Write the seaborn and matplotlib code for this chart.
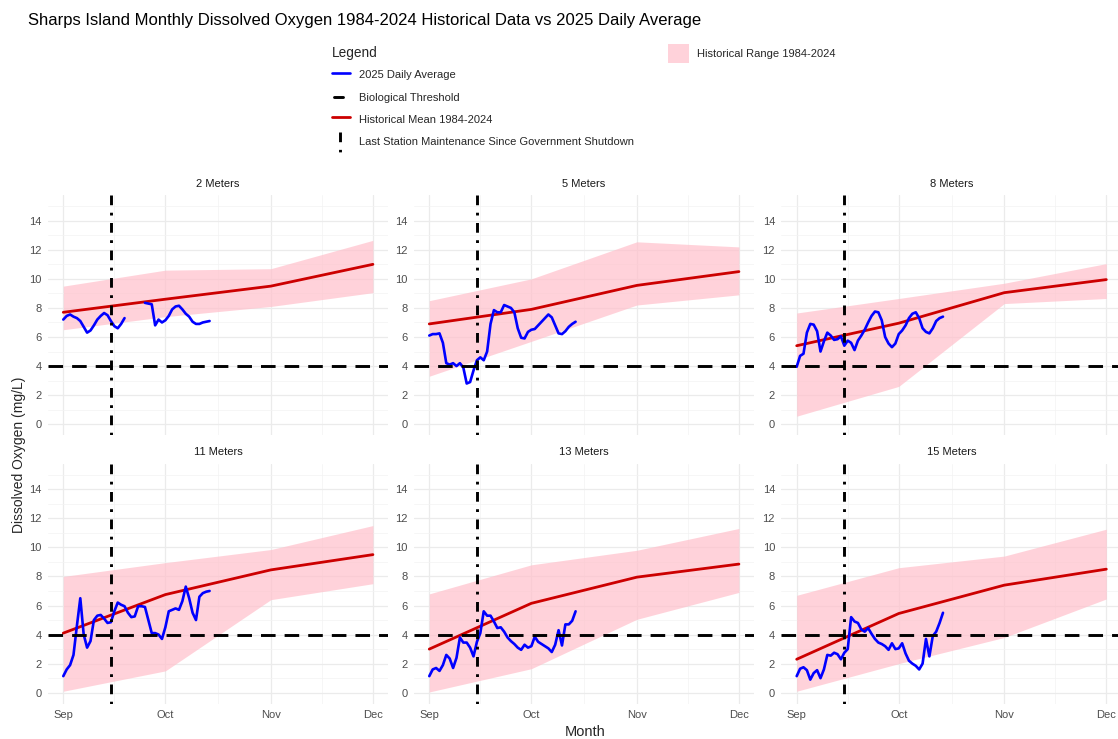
import numpy as np
import pandas as pd
import matplotlib
matplotlib.use("Agg")
import matplotlib.pyplot as plt
import matplotlib.dates as mdates
from matplotlib.lines import Line2D
from matplotlib.patches import Patch
from matplotlib.legend_handler import HandlerBase
import seaborn as sns

# ---------------- data ----------------
depths = ["2 Meters", "5 Meters", "8 Meters", "11 Meters", "13 Meters", "15 Meters"]
month_starts = ["2025-09-01", "2025-10-01", "2025-11-01", "2025-12-01"]
month_labels = ["Sep", "Oct", "Nov", "Dec"]

# historical monthly statistics 1984-2024 (mg/L), one value per month start
mean_2m = [7.7, 8.6, 9.5, 11.0]
min_2m = [6.5, 7.4, 8.1, 9.05]
max_2m = [9.5, 10.6, 10.7, 12.65]

mean_5m = [6.9, 7.9, 9.55, 10.5]
min_5m = [3.3, 5.7, 8.2, 8.9]
max_5m = [8.5, 10.0, 12.55, 12.2]

mean_8m = [5.4, 6.95, 9.05, 9.95]
min_8m = [0.55, 2.6, 8.3, 8.65]
max_8m = [7.65, 8.65, 9.7, 11.05]

mean_11m = [4.1, 6.75, 8.45, 9.5]
min_11m = [0.1, 1.5, 6.4, 7.5]
max_11m = [8.0, 8.95, 9.85, 11.5]

mean_13m = [3.0, 6.15, 7.95, 8.85]
min_13m = [0.05, 1.65, 5.05, 6.9]
max_13m = [6.8, 8.8, 9.8, 11.3]

mean_15m = [2.3, 5.45, 7.4, 8.5]
min_15m = [0.1, 2.0, 3.8, 6.45]
max_15m = [6.7, 8.6, 9.4, 11.25]

# 2025 daily averages, one value per day starting Sep 1 (None = no data)
daily_start = "2025-09-01"
do_2m = [7.2, 7.45, 7.55, 7.4, 7.3, 7.1, 6.7, 6.3, 6.45, 6.8,
         7.2, 7.45, 7.65, 7.5, 7.1, 6.75, 6.6, 6.9, 7.3, None,
         None, None, None, None, 8.35, 8.3, 8.25, 6.8, 7.2, 7.0,
         7.15, 7.45, 7.9, 8.1, 8.15, 7.9, 7.6, 7.4, 7.05, 6.9,
         6.9, 7.0, 7.05, 7.1]
do_5m = [6.1, 6.2, 6.2, 6.25, 5.6, 4.2, 4.1, 4.2, 4.0, 4.2,
         3.9, 2.8, 2.9, 3.7, 4.4, 4.6, 4.4, 5.0, 6.9, 7.85,
         7.7, 7.7, 8.2, 8.1, 8.0, 7.7, 6.6, 5.95, 5.9, 6.35,
         6.5, 6.55, 6.8, 7.05, 7.3, 7.55, 7.35, 6.8, 6.25, 6.2,
         6.4, 6.7, 6.9, 7.05]
do_8m = [3.95, 4.7, 4.85, 6.3, 6.9, 6.85, 6.4, 5.0, 5.7, 6.3,
         6.1, 5.8, 5.85, 6.05, 5.4, 5.75, 5.6, 5.1, 5.75, 6.1,
         6.5, 7.0, 7.45, 7.75, 7.7, 7.15, 6.0, 5.55, 5.3, 5.55,
         6.2, 6.45, 6.8, 7.3, 7.6, 7.7, 7.3, 6.6, 6.35, 6.25,
         6.6, 7.1, 7.3, 7.4]
do_11m = [1.14, 1.6, 1.9, 2.6, 4.6, 6.5, 4.0, 3.1, 3.55, 5.0,
          5.3, 5.35, 5.1, 4.8, 4.85, 5.6, 6.2, 6.05, 5.95, 5.5,
          5.2, 5.25, 5.95, 5.95, 5.9, 5.0, 4.1, 4.1, 4.0, 3.7,
          4.5, 5.6, 5.7, 5.8, 5.7, 6.3, 7.3, 6.5, 5.5, 5.0,
          6.6, 6.85, 6.95, 7.0]
do_13m = [1.14, 1.6, 1.7, 1.5, 1.9, 2.6, 2.35, 1.7, 2.4, 3.8,
          3.45, 3.45, 3.1, 2.5, 3.5, 4.1, 5.6, 5.3, 5.3, 4.9,
          4.45, 4.5, 4.2, 3.8, 3.55, 3.35, 3.1, 2.95, 3.3, 3.1,
          3.2, 3.85, 3.5, 3.35, 3.2, 3.05, 2.8, 3.3, 4.3, 3.25,
          4.7, 4.7, 4.95, 5.6]
do_15m = [1.14, 1.65, 1.75, 1.55, 0.9, 1.35, 1.55, 1.0, 1.6, 2.6,
          2.55, 2.75, 2.65, 2.3, 2.75, 3.0, 5.2, 4.9, 4.8, 4.35,
          4.2, 4.45, 4.05, 3.7, 3.45, 3.35, 3.2, 2.95, 3.4, 3.0,
          3.05, 3.4, 2.7, 2.2, 2.0, 1.85, 1.6, 2.0, 3.7, 2.5,
          3.9, 4.2, 4.8, 5.5]

threshold = 4.0
maintenance_date = "2025-09-15"

hist_mean = [mean_2m, mean_5m, mean_8m, mean_11m, mean_13m, mean_15m]
hist_min = [min_2m, min_5m, min_8m, min_11m, min_13m, min_15m]
hist_max = [max_2m, max_5m, max_8m, max_11m, max_13m, max_15m]
daily_do = [do_2m, do_5m, do_8m, do_11m, do_13m, do_15m]

# ---------------- tidy tables ----------------
month_dates = pd.to_datetime(month_starts)
hist_frames = []
for name, m, lo, hi in zip(depths, hist_mean, hist_min, hist_max):
    hist_frames.append(pd.DataFrame({"depth": name, "date": month_dates,
                                     "mean": m, "lo": lo, "hi": hi}))
hist = pd.concat(hist_frames, ignore_index=True)

daily_frames = []
for name, vals in zip(depths, daily_do):
    s = pd.Series([np.nan if v is None else v for v in vals], dtype=float)
    dates = pd.date_range(daily_start, periods=len(s), freq="D")
    seg = s.isna().cumsum()
    d = pd.DataFrame({"depth": name, "date": dates, "do": s, "segment": seg})
    daily_frames.append(d.dropna())
daily = pd.concat(daily_frames, ignore_index=True)

# ---------------- style ----------------
sns.set_theme(style="white")
plt.rcParams["font.family"] = ["Liberation Sans", "DejaVu Sans"]
plt.rcParams["lines.scale_dashes"] = False

W, H = 1118, 739
fig = plt.figure(figsize=(W / 100, H / 100), dpi=100)
fig.patch.set_facecolor("white")

col_left = [47.8, 413.8, 781.2]
row_top = [195.3, 463.8]
ax_w, ax_h = 340.6, 239.8

num_months = mdates.date2num(month_dates)
minor_x = (num_months[:-1] + num_months[1:]) / 2
span = num_months[-1] - num_months[0]
xlim = (num_months[0] - 0.05 * span, num_months[-1] + 0.05 * span)
maint = pd.Timestamp(maintenance_date)

for i, name in enumerate(depths):
    r, c = divmod(i, 3)
    ax = fig.add_axes([col_left[c] / W, 1 - (row_top[r] + ax_h) / H, ax_w / W, ax_h / H])
    ax.set_facecolor("white")
    h = hist[hist["depth"] == name]
    d = daily[daily["depth"] == name]

    ax.fill_between(h["date"], h["lo"], h["hi"], color="pink", alpha=0.7,
                    linewidth=0, zorder=1)
    sns.lineplot(data=h, x="date", y="mean", color="#CC0000", linewidth=2.0,
                 ax=ax, legend=False, zorder=2)
    sns.lineplot(data=d, x="date", y="do", units="segment", estimator=None,
                 color="blue", linewidth=1.9, ax=ax, legend=False, zorder=3)
    ax.axhline(threshold, color="black", linewidth=2.1,
               linestyle=(0, (10.5, 6.5)), zorder=4)
    ax.axvline(maint, color="black", linewidth=2.1,
               linestyle=(0, (2.0, 5.4, 7.0, 5.4)), zorder=5)

    ax.set_xlim(*xlim)
    ax.set_ylim(-0.75, 15.75)
    ax.set_yticks(range(0, 15, 2))
    ax.set_yticks(range(1, 16, 2), minor=True)
    ax.set_xticks(num_months)
    ax.set_xticks(minor_x, minor=True)
    if r == 1:
        ax.set_xticklabels(month_labels)
    else:
        ax.set_xticklabels([])
    ax.grid(which="major", color="#EBEBEB", linewidth=0.9)
    ax.grid(which="minor", color="#F3F3F3", linewidth=0.5)
    ax.set_axisbelow(True)
    for s in ax.spines.values():
        s.set_visible(False)
    ax.tick_params(which="both", length=0, labelsize=8, labelcolor="#4D4D4D")
    ax.tick_params(axis="y", pad=4.4)
    ax.tick_params(axis="x", pad=4.6)
    ax.set_xlabel("")
    ax.set_ylabel("")
    ax.set_title(name, fontsize=8, color="#1A1A1A", pad=6)

fig.text(28 / W, 1 - 20 / H,
         "Sharps Island Monthly Dissolved Oxygen 1984-2024 Historical Data vs 2025 Daily Average",
         fontsize=12, color="black", ha="left", va="center")
fig.text((47.8 + 1121.5) / 2 / W, 1 - 732 / H, "Month", fontsize=10.5,
         ha="center", va="center")
fig.text(19 / W, 1 - 455 / H, "Dissolved Oxygen (mg/L)", fontsize=10,
         rotation=90, ha="center", va="center")


# ---------------- legends ----------------
class ShortKey(HandlerBase):
    def create_artists(self, legend, orig_handle, xdescent, ydescent,
                       width, height, fontsize, trans):
        y = height / 2 - ydescent
        line = Line2D([0.1 * width - xdescent, 0.6 * width - xdescent], [y, y])
        self.update_prop(line, orig_handle, legend)
        line.set_linestyle("-")
        line.set_transform(trans)
        return [line]


class VerticalKey(HandlerBase):
    def create_artists(self, legend, orig_handle, xdescent, ydescent,
                       width, height, fontsize, trans):
        x = 0.45 * width - xdescent
        line = Line2D([x, x], [height - ydescent + 2, -ydescent - 6])
        self.update_prop(line, orig_handle, legend)
        line.set_transform(trans)
        return [line]


h_blue = Line2D([], [], color="blue", linewidth=1.9)
h_thr = Line2D([], [], color="black", linewidth=2.1)
h_mean = Line2D([], [], color="#CC0000", linewidth=2.0)
h_maint = Line2D([], [], color="black", linewidth=2.1, linestyle=(0, (7.0, 5.5, 1.8, 4.3)))

fig.legend([h_blue, h_thr, h_mean, h_maint],
           ["2025 Daily Average", "Biological Threshold", "Historical Mean 1984-2024",
            "Last Station Maintenance Since Government Shutdown"],
           loc="upper left", bbox_to_anchor=(332 / W, 1 - 45.5 / H),
           frameon=False, title="Legend", alignment="left",
           fontsize=8, title_fontsize=9.8, handlelength=1.6, handleheight=1.6,
           labelspacing=0.72, handletextpad=0.85, borderpad=0, borderaxespad=0,
           handler_map={h_thr: ShortKey(), h_maint: VerticalKey()})

fig.legend([Patch(facecolor="pink", alpha=0.7, linewidth=0)],
           ["Historical Range 1984-2024"],
           loc="upper left", bbox_to_anchor=(668 / W, 1 - 44 / H),
           frameon=False, fontsize=8, handlelength=1.9, handleheight=2.25,
           handletextpad=0.7, borderpad=0, borderaxespad=0)

fig.savefig("out.png", dpi=100, facecolor="white")
